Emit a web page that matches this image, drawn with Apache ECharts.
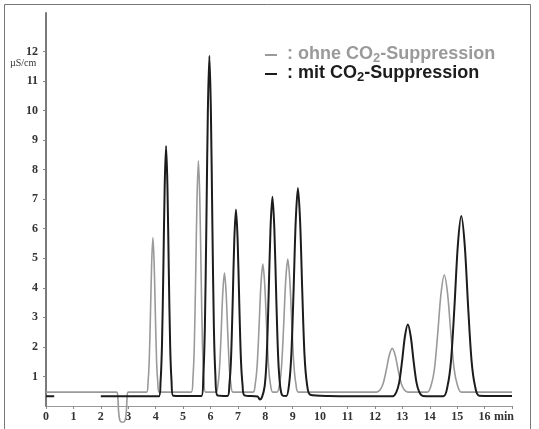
<!DOCTYPE html>
<html><head><meta charset="utf-8">
<script src="https://cdn.jsdelivr.net/npm/echarts@6/dist/echarts.min.js"></script>
<style>html,body{margin:0;padding:0;background:#fff}#c{width:539px;height:429px}</style>
</head><body><div id="c"></div>
<script>
// ---- data (time in min, conductivity in µS/cm) ----
const seriesNames = ['ohne', 'mit'];
const xTicks = [0,1,2,3,4,5,6,7,8,9,10,11,12,13,14,15,16,17];
const xTickLabels = ['0','1','2','3','4','5','6','7','8','9','10','11','12','13','14','15','16','min'];
const yTicks = [1,2,3,4,5,6,7,8,9,10,11,12];
const yTickLabels = ['1','2','3','4','5','6','7','8','9','10','11','12'];
const yUnit = 'µS/cm';

// ohne CO2-Suppression (grey trace)
const ohnePoints = [
  [0,0.47],[2.58,0.47],[2.62,0.3],[2.65,-0.2],[2.7,-0.5],[2.79,-0.55],[2.88,-0.5],[2.93,-0.2],[2.96,0.3],[3.0,0.47],
  [3.67,0.47],[3.72,0.77],[3.765,1.5],[3.81,3.08],[3.855,4.85],[3.9,5.7],[3.945,4.85],[3.99,3.08],[4.035,1.5],[4.08,0.77],[4.13,0.47],
  [5.30,0.47],[5.36,0.93],[5.41,2.03],[5.46,4.38],[5.51,7.05],[5.56,8.3],[5.61,7.05],[5.66,4.38],[5.71,2.03],[5.76,0.93],[5.82,0.47],
  [6.2,0.47],[6.27,0.7],[6.33,1.27],[6.39,2.48],[6.45,3.85],[6.51,4.5],[6.57,3.85],[6.63,2.48],[6.69,1.27],[6.75,0.7],[6.82,0.47],
  [7.55,0.47],[7.63,0.72],[7.70,1.33],[7.77,2.63],[7.84,4.1],[7.91,4.8],[7.98,4.1],[8.05,2.63],[8.12,1.33],[8.19,0.72],[8.27,0.47],
  [8.43,0.47],[8.52,0.73],[8.595,1.36],[8.67,2.72],[8.745,4.25],[8.82,4.97],[8.895,4.25],[8.97,2.72],[9.045,1.36],[9.12,0.73],[9.21,0.47],
  [12.06,0.47],[12.19,0.55],[12.30,0.76],[12.41,1.2],[12.52,1.71],[12.63,1.95],[12.74,1.71],[12.85,1.2],[12.96,0.76],[13.07,0.55],[13.2,0.47],
  [13.91,0.47],[14.05,0.7],[14.17,1.25],[14.29,2.45],[14.41,3.8],[14.53,4.43],[14.65,3.8],[14.77,2.45],[14.89,1.25],[15.01,0.7],[15.15,0.47],
  [17,0.47]
];

// mit CO2-Suppression (black trace; not visible between 0.3 and 2 min)
const mitPoints = [
  [0,0.33],[0.3,0.33],[1.0,null],[2.0,0.33],
  [4.12,0.33],[4.18,0.83],[4.23,2.02],[4.28,4.56],[4.33,7.44],[4.38,8.8],[4.43,7.44],[4.48,4.56],[4.53,2.02],[4.58,0.83],[4.64,0.35],
  [5.67,0.34],[5.74,1.03],[5.795,2.64],[5.85,6.1],[5.905,10.0],[5.96,11.85],[6.015,10.0],[6.07,6.1],[6.125,2.64],[6.18,1.03],[6.25,0.36],
  [6.62,0.34],[6.69,0.72],[6.75,1.6],[6.81,3.5],[6.87,5.64],[6.93,6.65],[6.99,5.64],[7.05,3.5],[7.11,1.6],[7.17,0.72],[7.24,0.36],
  [7.72,0.32],[7.8,0.22],[7.88,0.3],[7.98,0.69],[8.05,1.64],[8.12,3.68],[8.19,6.0],[8.26,7.08],[8.33,6.0],[8.40,3.68],[8.47,1.64],[8.54,0.69],[8.62,0.36],
  [8.77,0.34],[8.87,0.75],[8.95,1.74],[9.03,3.85],[9.11,6.25],[9.19,7.38],[9.27,6.25],[9.35,3.85],[9.43,1.74],[9.52,0.75],[9.64,0.38],
  [10.3,0.34],[12.65,0.33],[12.78,0.47],[12.885,0.8],[12.99,1.52],[13.095,2.36],[13.2,2.76],[13.305,2.36],[13.41,1.52],[13.515,0.8],[13.62,0.47],[13.75,0.34],
  [14.5,0.33],[14.65,0.68],[14.775,1.53],[14.9,3.35],[15.025,5.45],[15.15,6.43],[15.275,5.45],[15.4,3.35],[15.525,1.53],[15.65,0.68],[15.8,0.35],
  [17,0.34]
];

const chart = echarts.init(document.getElementById('c'), null, {renderer: 'canvas'});
const serif = '"Liberation Serif", "DejaVu Serif", serif';
const sans = '"Liberation Sans", Arial, sans-serif';
const grey = '#9a9a9a', dark = '#1c1c1c';
const legendRich = {
  g: {fontFamily: sans, fontWeight: 'bold', fontSize: 18, color: grey, lineHeight: 18, verticalAlign: 'top'},
  gs: {fontFamily: sans, fontWeight: 'bold', fontSize: 13, color: grey, lineHeight: 20, verticalAlign: 'bottom'},
  b: {fontFamily: sans, fontWeight: 'bold', fontSize: 18, color: dark, lineHeight: 18, verticalAlign: 'top'},
  bs: {fontFamily: sans, fontWeight: 'bold', fontSize: 13, color: dark, lineHeight: 20, verticalAlign: 'bottom'}
};

chart.setOption({
  animation: false,
  backgroundColor: '#fff',
  grid: {left: 46, right: 27, top: 13, bottom: 23, containLabel: false},
  legend: {
    orient: 'vertical', left: 265, top: 45, padding: 0, itemWidth: 12, itemHeight: 2, itemGap: -1,
    icon: 'rect', selectedMode: false,
    data: [
      {name: seriesNames[0], itemStyle: {color: grey}},
      {name: seriesNames[1], itemStyle: {color: dark}}
    ],
    formatter: function (name) {
      return name === seriesNames[0]
        ? '{g| : ohne CO}{gs|2}{g|-Suppression}'
        : '{b| : mit CO}{bs|2}{b|-Suppression}';
    },
    textStyle: {rich: legendRich}
  },
  xAxis: {
    type: 'value', min: 0, max: 17,
    axisLine: {show: true, lineStyle: {color: '#9a9a9a', width: 1}},
    axisTick: {show: true, length: 3, customValues: xTicks, lineStyle: {color: '#888'}},
    splitLine: {show: false},
    axisLabel: {
      customValues: xTicks, margin: 5,
      fontFamily: serif, fontWeight: 'bold', fontSize: 12, color: '#333',
      formatter: function (v) {
        const i = xTicks.indexOf(Math.round(v));
        const t = i >= 0 ? xTickLabels[i] : '';
        return t === 'min' ? '{m|min}' : t;
      },
      rich: {m: {fontFamily: serif, fontWeight: 'bold', fontSize: 12, color: '#333', padding: [0, 16, 0, 0]}}
    }
  },
  yAxis: {
    type: 'value', min: 0, max: 13.3,
    axisLine: {show: true, lineStyle: {color: '#7a7a7a', width: 2}},
    axisTick: {show: true, length: 3, customValues: yTicks, lineStyle: {color: '#888'}},
    splitLine: {show: false},
    axisLabel: {
      customValues: yTicks, margin: 8,
      fontFamily: serif, fontWeight: 'bold', fontSize: 12, color: '#333',
      formatter: function (v) {
        const i = yTicks.indexOf(Math.round(v));
        return i >= 0 ? yTickLabels[i] : '';
      }
    }
  },
  series: [
    {name: seriesNames[0], type: 'line', data: ohnePoints, showSymbol: false, smooth: 0.3, clip: false,
     lineStyle: {color: grey, width: 1.6}, itemStyle: {color: grey}, z: 2},
    {name: seriesNames[1], type: 'line', data: mitPoints, showSymbol: false, smooth: 0.3, connectNulls: false,
     lineStyle: {color: dark, width: 2}, itemStyle: {color: dark}, z: 3}
  ],
  graphic: [
    {type: 'rect', shape: {x: 4.5, y: 4.5, width: 526, height: 440}, style: {fill: 'none', stroke: '#777', lineWidth: 1}, silent: true},
    {type: 'text', left: 10, top: 58, style: {text: yUnit, fontFamily: serif, fontSize: 10, fill: '#333'}}
  ]
});
</script>
</body></html>
